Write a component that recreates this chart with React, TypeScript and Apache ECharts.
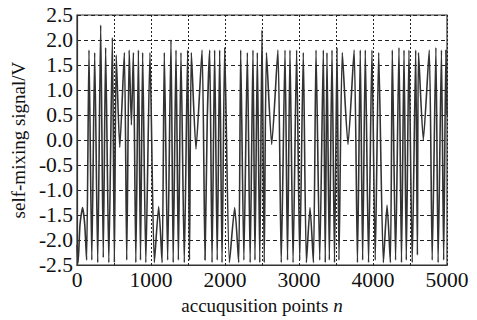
import React, { useEffect, useRef } from "react";
import * as echarts from "echarts";

const groupStartN = [0, 15, 40, 75, 105, 130, 162, 200, 239, 280, 320, 355, 387, 430, 478, 505, 530, 578, 640, 672, 705, 735, 762, 795, 830, 858, 887, 930, 986, 1045, 1104, 1150];
const groupStartV = [-2.1, -2.45, -1.7, -1.35, -1.7, -2.4, 1.8, -2.4, 1.75, -2.45, 2.3, -2.35, 1.85, -2.45, 2.05, -2.45, 1.7, -0.15, 1.75, -2.4, 1.8, 0.3, 1.75, -2.45, 1.8, -2.4, 1.75, -2.45, 1.75, -2.45, -1.33, -2.45];

const group2N = [1180, 1225, 1270, 1300, 1338, 1370, 1405, 1450, 1495, 1520, 1545, 1608, 1690, 1730, 1760, 1793, 1825, 1860, 1895, 1928, 1960, 1996, 2060, 2131, 2185];
const group2V = [1.75, -2.4, 2.0, -2.45, 1.8, -2.4, 1.75, -2.45, 1.8, -2.4, 1.75, -0.18, 1.8, -2.4, 0.4, 1.8, -2.45, 1.8, -2.4, 1.8, -2.45, 1.85, -2.45, -1.35, -2.45];

const group3N = [2212, 2255, 2302, 2340, 2378, 2405, 2437, 2470, 2500, 2530, 2560, 2631, 2715, 2760, 2811, 2845, 2878, 2920, 2968, 3010, 3058, 3100, 3149, 3195];
const group3V = [1.8, -2.4, 1.75, -2.45, 1.8, -2.4, 1.75, -2.45, 2.2, -2.45, 1.75, -0.09, 1.8, -2.45, 1.8, -2.4, 1.8, -2.45, 1.8, -2.4, 1.75, -2.45, -1.35, -2.45];

const group4N = [3230, 3280, 3329, 3355, 3378, 3410, 3446, 3480, 3514, 3540, 3585, 3662, 3745, 3790, 3828, 3860, 3896, 3940, 3986, 4030, 4077, 4140, 4190, 4235];
const group4V = [1.8, -2.4, 1.8, -2.45, 1.75, -2.4, 1.8, -2.45, 1.85, -2.4, 1.75, -0.09, 1.8, -2.45, 1.8, -2.4, 1.8, -2.45, 1.8, -2.4, 1.75, -2.45, -1.3, -2.45];

const group5N = [4261, 4305, 4351, 4385, 4419, 4450, 4486, 4530, 4577, 4600, 4615, 4680, 4760, 4800, 4850, 4880, 4925, 4955, 4985, 5000];
const group5V = [1.8, -2.4, 1.85, -2.45, 1.8, -2.4, 1.8, -2.45, 1.8, -2.3, 1.75, 0.0, 1.8, -2.4, 1.85, -2.45, 1.8, -2.4, 1.8, 0.5];

const xTicks = [0, 1000, 2000, 3000, 4000, 5000];
const yTicks = [-2.5, -2.0, -1.5, -1.0, -0.5, 0.0, 0.5, 1.0, 1.5, 2.0, 2.5];

export default function App() {
  const ref = useRef<HTMLDivElement>(null);
  useEffect(() => {
    if (!ref.current) return;
    const chart = echarts.init(ref.current, null, { renderer: "svg" });
    const allN = [...groupStartN, ...group2N, ...group3N, ...group4N, ...group5N];
    const allV = [...groupStartV, ...group2V, ...group3V, ...group4V, ...group5V];
    const data = allN.map((n, i) => [n, allV[i]]);
    const font = "'Liberation Serif', 'DejaVu Serif', serif";
    chart.setOption({
      animation: false,
      backgroundColor: "#fff",
      grid: { left: 77, right: 30, top: 15, bottom: 41, show: true, borderColor: "#333", borderWidth: 1.2 },
      xAxis: {
        type: "value",
        min: 0,
        max: 5000,
        interval: 500,
        name: "{a|accuqusition points }{b|n}",
        nameLocation: "middle",
        nameGap: 26,
        nameTextStyle: {
          rich: {
            a: { fontFamily: font, fontSize: 19, color: "#111" },
            b: { fontFamily: font, fontSize: 19, color: "#111", fontStyle: "italic" },
          },
        },
        axisLine: { onZero: false, lineStyle: { color: "#333", width: 1.2 } },
        axisTick: { show: false },
        axisLabel: {
          fontFamily: font,
          fontSize: 21.5,
          color: "#111",
          margin: 4,
          formatter: (v: number) => (xTicks.includes(v) ? String(v) : ""),
        },
        splitLine: { show: true, lineStyle: { color: "#222", type: [2, 2], width: 1 } },
      },
      yAxis: {
        type: "value",
        min: -2.5,
        max: 2.5,
        interval: 0.5,
        name: "self-mixing signal/V",
        nameLocation: "middle",
        nameGap: 46,
        nameTextStyle: { fontFamily: font, fontSize: 19, color: "#111" },
        axisLine: { show: true, onZero: false, lineStyle: { color: "#333", width: 1.2 } },
        axisTick: { show: false },
        axisLabel: {
          fontFamily: font,
          fontSize: 21.5,
          color: "#111",
          margin: 4,
          formatter: (v: number) => {
            const t = yTicks.find((y) => Math.abs(y - v) < 1e-9);
            return t === undefined ? "" : t.toFixed(1);
          },
        },
        splitLine: { show: true, lineStyle: { color: "#222", type: [4, 3], width: 1 } },
      },
      series: [
        {
          type: "line",
          data,
          showSymbol: false,
          smooth: 0.2,
          lineStyle: { color: "#333", width: 1.6 },
        },
      ],
    });
    return () => chart.dispose();
  }, []);
  return <div ref={ref} style={{ position: "fixed", left: 0, top: 0, width: 477, height: 320 }} />;
}
